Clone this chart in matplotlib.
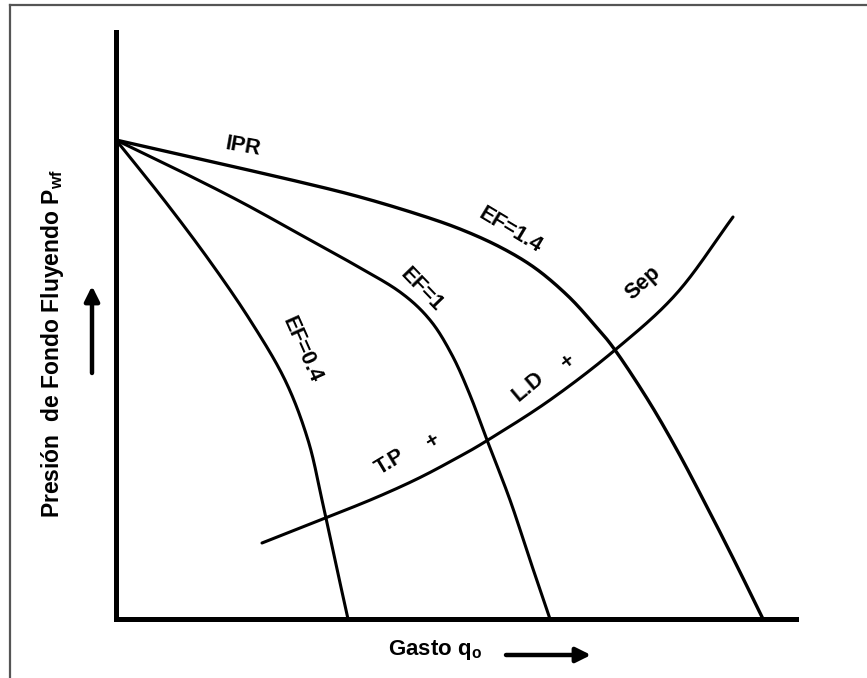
import numpy as np
import matplotlib
matplotlib.use("Agg")
import matplotlib.pyplot as plt
from matplotlib.lines import Line2D

plt.rcParams['font.family'] = ['Liberation Sans', 'DejaVu Sans']
plt.rcParams['mathtext.fontset'] = 'custom'
plt.rcParams['mathtext.rm'] = 'Liberation Sans:bold'
plt.rcParams['mathtext.it'] = 'Liberation Sans:bold'
plt.rcParams['mathtext.bf'] = 'Liberation Sans:bold'

# ---- data (arbitrary units) ----
q_ef04 = [0, 48, 93, 134, 169, 192, 206, 219, 232]
p_ef04 = [479, 419, 359, 299, 239, 179, 119, 59, 0]

q_ef10 = [0, 64, 127, 194, 239, 284, 314, 336, 354, 371, 394, 414, 434]
p_ef10 = [479, 448, 416, 379, 354, 327, 299, 264, 224, 179, 119, 59, 0]

q_ef14 = [0, 84, 184, 244, 301, 344, 384, 419, 451, 476, 499, 532, 561, 590, 618, 647]
p_ef14 = [479, 460, 437, 422, 405, 390, 372, 351, 324, 297, 269, 219, 169, 114, 59, 0]

q_sep = [146, 212, 259, 301, 339, 372, 434, 499, 561, 617]
p_sep = [76, 102, 121, 140, 160, 179, 219, 269, 326, 402]

x_max, y_max = 680, 587

# curve labels: text, q, p, angle
labels = [
    ("IPR", 127, 472, -10),
    ("EF=1.4", 394, 389, -31),
    ("EF=1", 306, 329, -46),
    ("EF=0.4", 186, 269, -66),
    ("Sep", 527, 336, 42),
    ("L.D", 412, 232, 40),
    ("+", 452, 257, 38),
    ("T.P", 274, 157, 31),
    ("+", 317, 177, 31),
]


def smooth(x, y, n=30):
    """Catmull-Rom rendering of a line through the read points."""
    P = np.column_stack([x, y]).astype(float)
    P = np.vstack([2 * P[0] - P[1], P, 2 * P[-1] - P[-2]])
    out = []
    t = np.linspace(0, 1, n, endpoint=False)[:, None]
    for i in range(1, len(P) - 2):
        p0, p1, p2, p3 = P[i - 1], P[i], P[i + 1], P[i + 2]
        seg = 0.5 * ((2 * p1) + (-p0 + p2) * t + (2 * p0 - 5 * p1 + 4 * p2 - p3) * t ** 2
                     + (-p0 + 3 * p1 - 3 * p2 + p3) * t ** 3)
        out.append(seg)
    out.append(P[-2][None, :])
    out = np.vstack(out)
    return out[:, 0], out[:, 1]


fig = plt.figure(figsize=(8.67, 6.78), dpi=100)
ax = fig.add_axes([116 / 867, 1 - 619 / 678, (796 - 116) / 867, (619 - 32) / 678])
ax.set_xlim(0, x_max)
ax.set_ylim(0, y_max)
for s in ['top', 'right']:
    ax.spines[s].set_visible(False)
for s in ['left', 'bottom']:
    ax.spines[s].set_linewidth(3.6)
    ax.spines[s].set_color('black')
ax.set_xticks([])
ax.set_yticks([])

for qx, py, lw in [(q_ef14, p_ef14, 2.4), (q_ef10, p_ef10, 2.2), (q_ef04, p_ef04, 2.2), (q_sep, p_sep, 2.2)]:
    sx, sy = smooth(qx, py)
    ax.plot(sx, sy, color='black', lw=lw, solid_capstyle='round', clip_on=False)

for txt, x, y, rot in labels:
    ax.text(x, y, txt, rotation=rot, ha='center', va='center', fontsize=15.5,
            fontweight='bold', rotation_mode='anchor')

# axis labels
fig.text(53 / 867, 1 - 343 / 678, "Presión  de Fondo Fluyendo P$_{\\mathrm{wf}}$",
         rotation=90, ha='center', va='center', fontsize=16.5, fontweight='bold')
fig.text(435 / 867, 1 - 650 / 678, "Gasto q$_{\\mathrm{o}}$",
         ha='center', va='center', fontsize=16, fontweight='bold')

# arrows
ax.annotate('', xy=(92, 678 - 286), xytext=(92, 678 - 373), xycoords='figure pixels',
            textcoords='figure pixels',
            arrowprops=dict(arrowstyle='-|>', lw=3.2, color='black', mutation_scale=22,
                            shrinkA=0, shrinkB=0))
ax.annotate('', xy=(591, 678 - 655), xytext=(506, 678 - 655), xycoords='figure pixels',
            textcoords='figure pixels',
            arrowprops=dict(arrowstyle='-|>', lw=3.2, color='black', mutation_scale=22,
                            shrinkA=0, shrinkB=0))

# outer frame (top and left edges)
fig.add_artist(Line2D([10 / 867, 10 / 867], [0, 1 - 5 / 678], transform=fig.transFigure,
                      color='#555555', lw=1.6))
fig.add_artist(Line2D([10 / 867, 1], [1 - 5 / 678, 1 - 5 / 678], transform=fig.transFigure,
                      color='#555555', lw=1.6))

fig.savefig("out.png", dpi=100, facecolor='white')
